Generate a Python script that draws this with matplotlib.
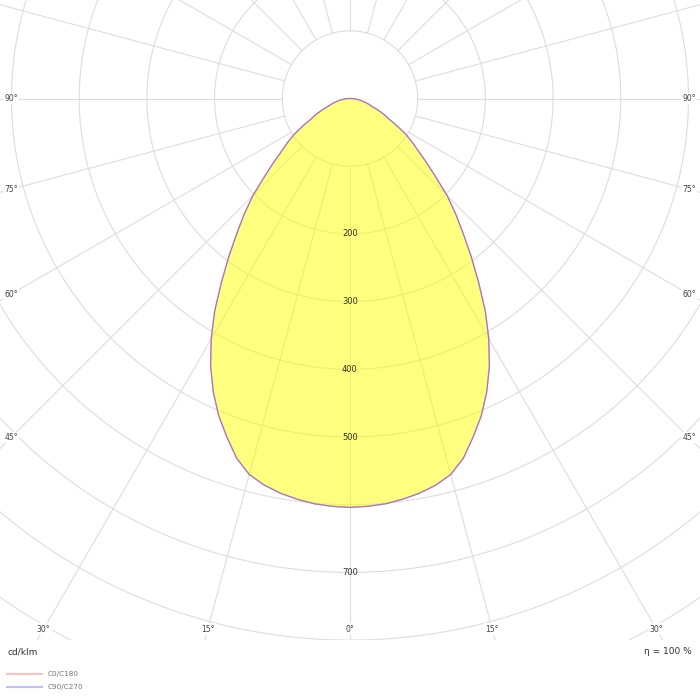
import numpy as np
import matplotlib
matplotlib.use("Agg")
import matplotlib.pyplot as plt
from matplotlib.lines import Line2D

# ---- data (cd/klm) ----
gamma_deg = [0, 2.5, 5, 7.5, 10, 12.5, 15, 17.5, 20, 22.5, 25, 27.5, 30, 32.5, 35,
             37.5, 40, 42.5, 45, 47.5, 50, 52.5, 55, 57.5, 60, 62.5, 65, 67.5, 70,
             72.5, 75, 77.5, 80, 82.5, 85, 87.5, 90]
c0_c180 = [604, 603, 601, 597, 592, 585, 575, 557, 532, 507, 478, 446, 410, 372, 331,
           294, 260, 231, 203, 172, 148, 127, 112, 97, 79, 64, 55, 45, 36,
           30, 25, 20, 16, 12, 8, 4, 0]
c90_c270 = [604, 603, 601, 597, 592, 585, 575, 557, 532, 507, 478, 446, 410, 372, 331,
            294, 260, 231, 203, 172, 148, 127, 112, 97, 79, 64, 55, 45, 36,
            30, 25, 20, 16, 12, 8, 4, 0]
radial_labels = [200, 300, 400, 500, 700]
angle_labels_bottom = [0, 15, 30]
angle_labels_side = [45, 60, 75, 90]
unit_label = "cd/klm"
eta_label = "η = 100 %"
legend_labels = ["C0/C180", "C90/C270"]

W, H = 700, 700
fig = plt.figure(figsize=(7, 7), dpi=100)
plot_h = 640
ax = fig.add_axes([0, (H - plot_h) / H, 1, plot_h / H])

px_per_unit = 0.677
cx, cy = 350, 98.5
xmax = cx / px_per_unit
ytop = cy / px_per_unit
ybot = -(plot_h - cy) / px_per_unit
ax.set_xlim(-xmax, xmax)
ax.set_ylim(ybot, ytop)
ax.set_aspect("equal")
ax.axis("off")

grid_c = "#dddddd"
# circles
t = np.linspace(0, 2 * np.pi, 721)
for r in range(100, 1100, 100):
    ax.plot(r * np.cos(t), r * np.sin(t), color=grid_c, lw=0.8, zorder=1)
# radial lines every 15 degrees, starting at r=100
for a in range(0, 360, 15):
    ar = np.deg2rad(a)
    ax.plot([100 * np.sin(ar), 1500 * np.sin(ar)],
            [-100 * np.cos(ar), -1500 * np.cos(ar)],
            color=grid_c, lw=0.8, zorder=1)

# curve
g = np.deg2rad(np.array(gamma_deg, dtype=float))
def plane(right_vals, left_vals):
    rv = np.array(right_vals, float)
    lv = np.array(left_vals, float)
    ang = np.concatenate([-g[::-1], g[1:]])
    rr = np.concatenate([lv[::-1], rv[1:]])
    return rr * np.sin(ang), -rr * np.cos(ang)

x0, y0 = plane(c0_c180, c0_c180)
x1, y1 = plane(c90_c270, c90_c270)
ax.fill(x0, y0, color="#ffff00", alpha=0.5, lw=0, zorder=2)
ax.plot(x0, y0, color="#e07a8a", lw=0.9, zorder=3)
ax.plot(x1, y1, color="#7070ff", lw=0.9, alpha=0.5, zorder=4)

# radial value labels
for v in radial_labels:
    ax.text(0, -v, str(v), ha="center", va="center", fontsize=6,
            color="#333333", zorder=5)

# angle labels
lab_kw = dict(ha="center", va="center", fontsize=5.5, color="#444444", zorder=6,
              bbox=dict(boxstyle="square,pad=0.15", fc="white", ec="none"))
yb = -(629 - cy) / px_per_unit
for a in angle_labels_bottom:
    xx = -yb * np.tan(np.deg2rad(a))
    ax.text(xx, yb, f"{a}°", **lab_kw)
    if a != 0:
        ax.text(-xx, yb, f"{a}°", **lab_kw)
xs = (cx - 11) / px_per_unit
for a in angle_labels_side:
    yy = -xs / np.tan(np.deg2rad(a)) if a != 90 else 0.0
    ax.text(-xs, yy, f"{a}°", **lab_kw)
    ax.text(xs, yy, f"{a}°", **lab_kw)

# footer texts
fig.text(7 / W, 1 - 652 / H, unit_label, ha="left", va="center", fontsize=6.5, color="#333333")
fig.text(692 / W, 1 - 652 / H, eta_label, ha="right", va="center", fontsize=6.5, color="#333333")
for i, (lab, col) in enumerate(zip(legend_labels, ["#ffbfbf", "#bfbfff"])):
    yy = 1 - (674 + 13 * i) / H
    fig.add_artist(Line2D([7 / W, 42 / W], [yy, yy], color=col, lw=1.5, transform=fig.transFigure))
    fig.text(48 / W, yy, lab, ha="left", va="center", fontsize=5.2, color="#777777")

fig.savefig("out.png", dpi=100)
